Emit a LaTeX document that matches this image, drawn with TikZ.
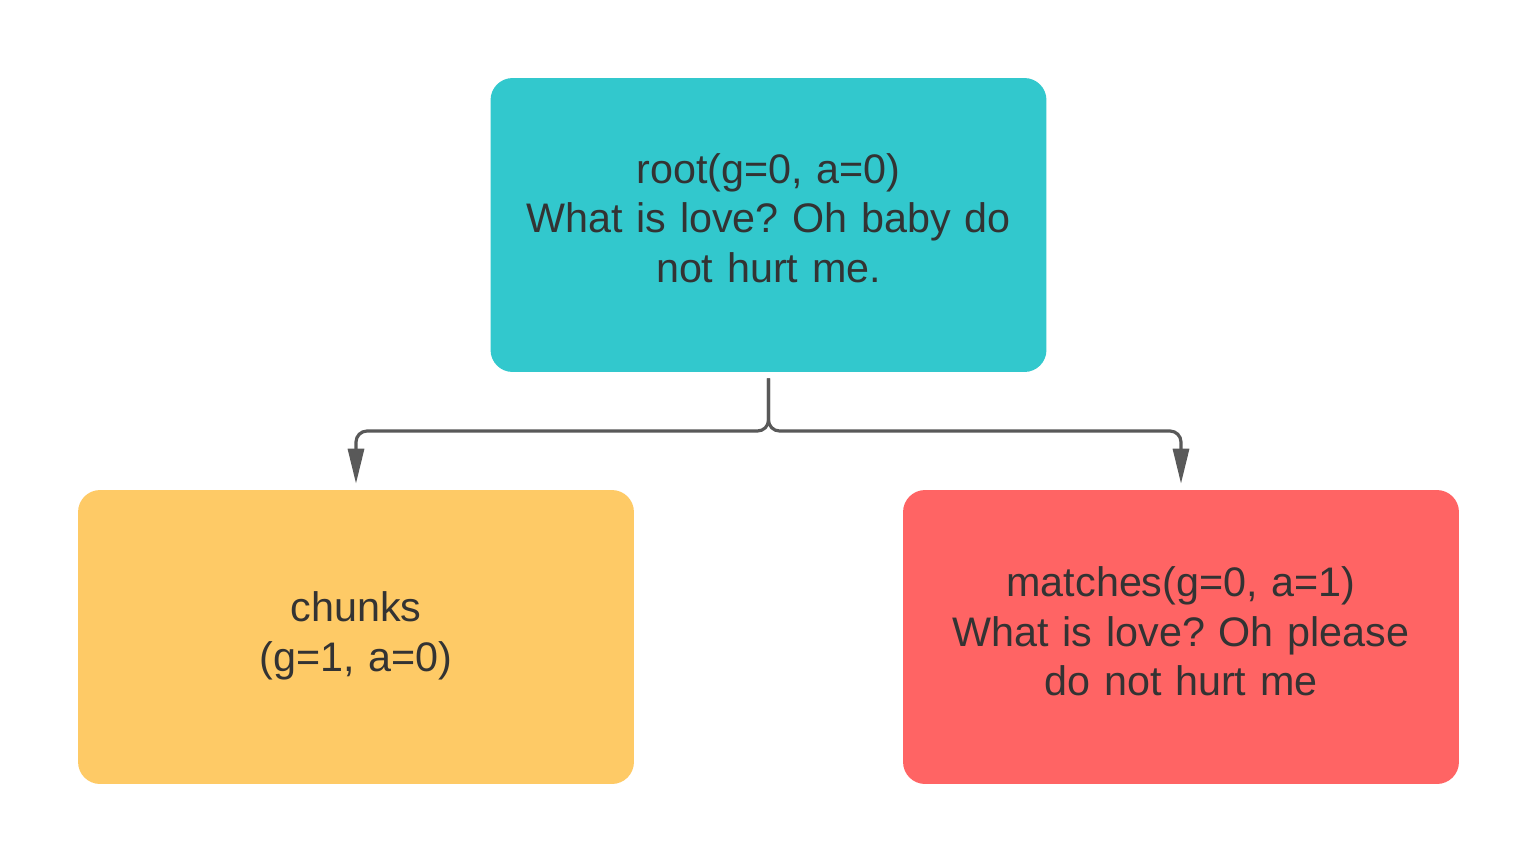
\documentclass[tikz,border=0pt]{standalone}
\usepackage{fontspec}
\setmainfont{Liberation Sans}
\usetikzlibrary{arrows.meta}
\definecolor{teal1}{RGB}{50,200,205}
\definecolor{yell1}{RGB}{254,202,102}
\definecolor{red1}{RGB}{255,100,100}
\definecolor{txt}{RGB}{51,51,51}
\definecolor{conn}{RGB}{89,89,89}
\begin{document}
\frenchspacing
\begin{tikzpicture}[x=0.02cm,y=-0.02cm,
  box/.style={rounded corners=0.44cm, minimum width=11.12cm, minimum height=5.88cm, inner sep=0pt},
  lbl/.style={inner sep=0pt, align=center, text=txt, font=\fontsize{23.5}{28.3}\selectfont\frenchspacing, text width=10.8cm},
  link/.style={draw=conn, line width=1.8pt, rounded corners=0.22cm,
    -{Triangle[length=0.7cm,width=0.32cm]}, shorten <=0.12cm, shorten >=0.12cm}]
\useasboundingbox[fill=white] (0,0) rectangle (1538,863);
\node[box, fill=teal1] (root) at (768.5,225) {};
\node[box, fill=yell1] (chunks) at (356,637) {};
\node[box, fill=red1] (matches) at (1181,637) {};
\node[lbl] (rootlbl) at ([yshift=0.14cm]root.center) {root(g=0, a=0)\\What is love? Oh baby do\\not hurt me.};
\node[lbl] (chunkslbl) at ([yshift=0.03cm]chunks.center) {chunks\\(g=1, a=0)};
\node[lbl] (matcheslbl) at ([yshift=0.11cm]matches.center) {matches(g=0, a=1)\\What is love? Oh please\\do not hurt me};
\coordinate (j) at (768.5,431);
\draw[link] (root.south) -- (j) -| (chunks.north);
\draw[link] (root.south) -- (j) -| (matches.north);
\end{tikzpicture}
\end{document}
